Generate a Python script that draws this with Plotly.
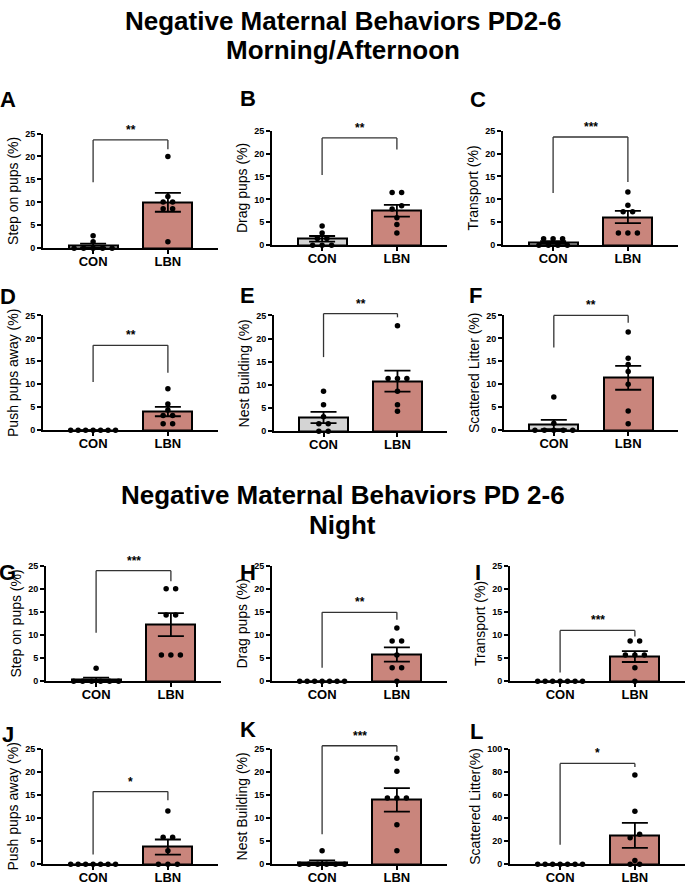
import numpy as np
import plotly.graph_objects as go

W, H = 685, 887
FONT = "Liberation Sans, Arial, Helvetica, sans-serif"

groups = ["CON", "LBN"]
panel_letters = ["A", "B", "C", "D", "E", "F", "G", "H", "I", "J", "K", "L"]
y_titles = ["Step on pups (%)", "Drag pups (%)", "Transport (%)",
            "Push pups away (%)", "Nest Building (%)", "Scattered Litter (%)",
            "Step on pups (%)", "Drag pups (%)", "Transport (%)",
            "Push pups away (%)", "Nest Building (%)", "Scattered Litter(%)"]
y_max = [25, 25, 25, 25, 25, 25, 25, 25, 25, 25, 25, 100]
y_step = [5, 5, 5, 5, 5, 5, 5, 5, 5, 5, 5, 20]

# Morning / Afternoon
A_con = [0, 0, 0, 0, 0, 1.4, 2.7]
A_lbn = [20.0, 11.3, 10.1, 10.1, 8.6, 8.6, 1.4]
B_con = [0, 0, 0, 1.5, 1.5, 2.7, 4.2]
B_lbn = [11.5, 11.5, 8.6, 7.9, 6.0, 4.5, 2.7]
C_con = [0, 0, 0, 0, 1.4, 1.4, 1.4]
C_lbn = [11.6, 8.7, 7.3, 7.3, 2.7, 2.7, 2.7]
D_con = [0, 0, 0, 0, 0, 0, 0]
D_lbn = [9.0, 5.7, 4.4, 3.2, 3.2, 1.4, 1.4]
E_con = [8.6, 5.7, 3.1, 1.6, 1.6, 0, 0]
E_lbn = [22.8, 11.4, 11.4, 11.4, 8.6, 5.7, 4.3]
F_con = [7.2, 1.5, 0, 0, 0, 0, 0]
F_lbn = [21.4, 15.7, 14.3, 12.8, 10.0, 4.2, 1.4]
# Night
G_con = [2.8, 0, 0, 0, 0, 0, 0]
G_lbn = [20.0, 20.0, 14.3, 14.3, 5.7, 5.7, 5.7]
H_con = [0, 0, 0, 0, 0, 0, 0]
H_lbn = [11.5, 8.7, 8.7, 5.7, 2.9, 2.9, 0]
I_con = [0, 0, 0, 0, 0, 0, 0]
I_lbn = [8.7, 8.7, 5.7, 5.7, 5.7, 2.9, 0]
J_con = [0, 0, 0, 0, 0, 0, 0]
J_lbn = [11.5, 5.8, 5.8, 2.9, 0, 0, 0]
K_con = [2.9, 0, 0, 0, 0, 0, 0]
K_lbn = [22.9, 20.1, 14.3, 14.3, 14.3, 8.5, 2.9]
L_con = [0, 0, 0, 0, 0, 0, 0]
L_lbn = [77.1, 45.8, 25.8, 22.9, 3.2, 0, 0]

con_data = [A_con, B_con, C_con, D_con, E_con, F_con, G_con, H_con, I_con, J_con, K_con, L_con]
lbn_data = [A_lbn, B_lbn, C_lbn, D_lbn, E_lbn, F_lbn, G_lbn, H_lbn, I_lbn, J_lbn, K_lbn, L_lbn]

# significance brackets (data units)
bracket_top = [23.6, 23.4, 23.6, 18.5, 25.4, 25.0, 23.9, 14.9, 11.0, 15.7, 25.6, 87.1]
bracket_con = [14.4, 15.3, 11.4, 10.5, 16.0, 18.0, 10.5, 2.9, 1.9, 2.1, 6.5, 16.9]
bracket_lbn = [21.6, 20.9, 13.8, 12.5, 24.6, 23.4, 21.6, 13.3, 9.7, 13.8, 24.3, 84.0]
stars = ["**", "**", "***", "**", "**", "**", "***", "**", "***", "*", "***", "*"]

# ---- layout geometry (pixels) ----
boxes = [  # x0, x1, ytop, ybottom
    (43, 218, 130, 246), (272, 447, 127, 243), (503, 678, 127, 243),
    (43, 218, 314, 430), (274, 447, 314, 431), (504, 678, 314, 430),
    (46, 221, 567, 684), (272, 447, 567, 684), (510, 685, 567, 684),
    (43, 218, 752, 869), (272, 447, 752, 869), (510, 685, 752, 869),
]
letter_pos = [(8, 96), (248, 95), (478, 96), (8, 295), (247, 294), (475, 294),
              (8, 574), (248, 574), (478, 574), (8, 738), (248, 733), (476, 735)]

XR = [-0.67, 1.67]
BAR_W = 0.655
CON_COLOR = "#d4d4d4"
LBN_COLOR = "#c9857c"


def swarm(vals, center, ymax):
    vals = np.asarray(vals, float)
    order = np.argsort(vals, kind="stable")
    xs = np.zeros(len(vals))
    tol = 0.03 * ymax
    grps, cur = [], [order[0]]
    for i in order[1:]:
        if vals[i] - vals[cur[-1]] < tol:
            cur.append(i)
        else:
            grps.append(cur)
            cur = [i]
    grps.append(cur)
    for g in grps:
        n = len(g)
        sp = min(0.127, 0.6 / (n - 1)) if n > 1 else 0
        offs = (np.arange(n) - (n - 1) / 2) * sp
        for k, i in enumerate(g):
            xs[i] = center + offs[k]
    return xs


def sem(v):
    v = np.asarray(v, float)
    return float(np.std(v, ddof=1) / np.sqrt(len(v)))


fig = go.Figure()
annotations = []
shapes = []

for p in range(12):
    sfx = "" if p == 0 else str(p + 1)
    xa, ya = "x" + sfx, "y" + sfx
    con, lbn = con_data[p], lbn_data[p]
    means = [float(np.mean(con)), float(np.mean(lbn))]
    errs = [sem(con), sem(lbn)]
    fig.add_trace(go.Bar(
        x=[0, 1], y=means, width=BAR_W, xaxis=xa, yaxis=ya,
        marker=dict(color=[CON_COLOR, LBN_COLOR], line=dict(color="black", width=2)),
        error_y=dict(type="data", array=errs, visible=True, color="black", thickness=1.8, width=13),
        showlegend=False, cliponaxis=False,
    ))
    for gi, vals in enumerate([con, lbn]):
        fig.add_trace(go.Scatter(
            x=swarm(vals, gi, y_max[p]), y=vals, mode="markers", xaxis=xa, yaxis=ya,
            marker=dict(color="black", size=5.5), showlegend=False, cliponaxis=False,
        ))

    x0, x1, yt, yb = boxes[p]
    fig.layout["xaxis" + sfx] = dict(
        domain=[x0 / W, x1 / W], anchor=ya, range=XR, tickvals=[0, 1], ticktext=groups,
        showline=True, linecolor="black", linewidth=2, ticks="outside", ticklen=4,
        tickwidth=2, tickcolor="black", showgrid=False, zeroline=False, fixedrange=True,
        ticklabelstandoff=-4,
        tickfont=dict(family=FONT, size=13, color="black", weight="bold"),
    )
    fig.layout["yaxis" + sfx] = dict(
        domain=[1 - yb / H, 1 - yt / H], anchor=xa, range=[0, y_max[p]],
        tickvals=list(range(0, y_max[p] + 1, y_step[p])),
        showline=True, linecolor="black", linewidth=2, ticks="outside", ticklen=4,
        tickwidth=2, tickcolor="black", showgrid=False, zeroline=False,
        tickfont=dict(family=FONT, size=9, color="black", weight="bold"),
        title=dict(text=y_titles[p], font=dict(family=FONT, size=14, color="black"), standoff=3),
    )

    # bracket (in axis-domain fractions)
    fx = lambda v: (v - XR[0]) / (XR[1] - XR[0])
    fy = lambda v: v / y_max[p]
    xd, yd = xa + " domain", ya + " domain"
    line = dict(color="#333333", width=1.3)
    shapes.append(dict(type="line", xref=xd, yref=yd, x0=fx(0), x1=fx(0),
                       y0=fy(bracket_con[p]), y1=fy(bracket_top[p]), line=line))
    shapes.append(dict(type="line", xref=xd, yref=yd, x0=fx(0), x1=fx(1),
                       y0=fy(bracket_top[p]), y1=fy(bracket_top[p]), line=line))
    shapes.append(dict(type="line", xref=xd, yref=yd, x0=fx(1), x1=fx(1),
                       y0=fy(bracket_lbn[p]), y1=fy(bracket_top[p]), line=line))
    annotations.append(dict(xref=xd, yref=yd, x=fx(0.5), y=fy(bracket_top[p]),
                            text=stars[p], showarrow=False, xanchor="center", yanchor="bottom",
                            yshift=1, font=dict(family=FONT, size=12, color="black", weight="bold")))
    lx, ly = letter_pos[p]
    annotations.append(dict(xref="paper", yref="paper", x=lx / W, y=1 - ly / H,
                            text=panel_letters[p], showarrow=False, xanchor="center",
                            yanchor="middle",
                            font=dict(family=FONT, size=22, color="black", weight="bold")))

title_lines = [("Negative Maternal Behaviors PD2-6", 16), ("Morning/Afternoon", 46),
               ("Negative Maternal Behaviors PD 2-6", 496), ("Night", 526)]
for txt, py in title_lines:
    annotations.append(dict(xref="paper", yref="paper", x=0.5, y=1 - py / H, text=txt,
                            showarrow=False, xanchor="center", yanchor="middle",
                            font=dict(family=FONT, size=26, color="black", weight="bold")))

fig.update_layout(
    width=W, height=H, margin=dict(l=0, r=0, t=0, b=0),
    paper_bgcolor="white", plot_bgcolor="white",
    shapes=shapes, annotations=annotations, bargap=0,
)
fig.write_html("out.html", config={"displayModeBar": False},
               post_script="document.body.style.margin='0px';")
